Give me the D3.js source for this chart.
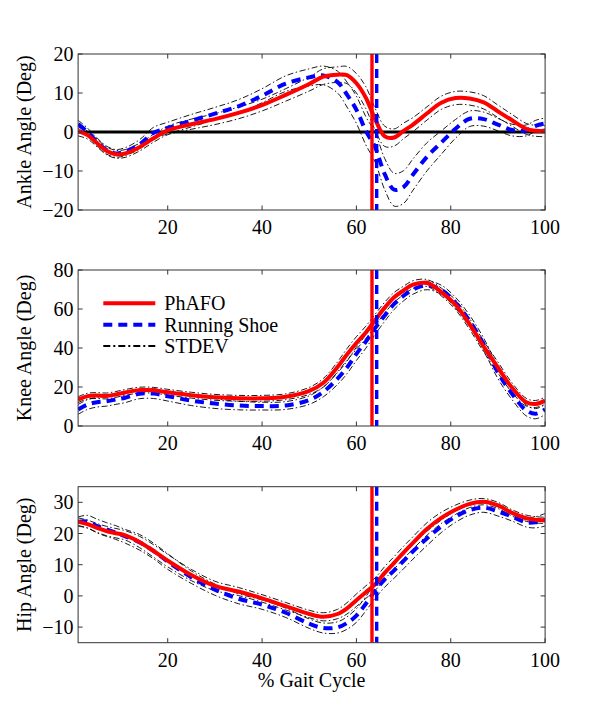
<!DOCTYPE html>
<html><head><meta charset="utf-8">
<script src="https://cdn.jsdelivr.net/npm/d3@7"></script>
<style>body{margin:0;background:#fff;} svg{display:block;}</style>
</head><body>
<svg id="chart" width="600" height="722"></svg>
<script>
// ---- data ----
const gait = [1,3,5,7,9,11,14,17,20,25,30,35,40,45,50,53,56,58,60,62,64,66,68,70,72,75,78,81,84,87,90,93,96,98,100];
const ankleP = [0.2,-0.8,-2.8,-4.8,-5.7,-5.5,-3.9,-1.6,0.4,2.0,3.3,4.9,6.9,9.5,12.3,14.2,14.7,14.6,12.5,8.8,3.2,-1.1,-1.4,0.3,1.9,4.8,7.5,8.7,8.6,7.6,5.3,3.0,0.8,0.3,0.2];
const ankleR = [2.0,0.0,-2.5,-4.6,-5.5,-5.0,-3.2,-0.2,1.0,2.9,4.7,6.6,9.3,12.4,14.0,14.5,12.8,9.6,5.7,0.3,-4.0,-10.8,-14.8,-14.1,-10.9,-6.3,-2.7,0.8,3.4,3.3,1.9,0.5,0.4,1.6,2.2];
const ankleSdP = [1.2,1.0,1.0,1.0,1.0,1.0,1.0,1.0,1.1,1.3,1.4,1.5,1.5,1.6,1.8,2.0,2.0,2.2,2.5,2.8,2.8,2.6,2.2,2.0,1.8,1.7,1.7,1.7,1.7,1.7,1.6,1.5,1.4,1.4,1.4];
const ankleSdR = [1.0,1.0,1.0,1.0,1.0,1.0,1.2,1.4,1.5,1.6,1.6,1.7,1.8,2.0,2.2,2.4,2.8,3.2,3.5,3.6,3.8,4.0,4.2,4.2,4.0,3.6,3.0,2.4,2.0,1.8,1.6,1.5,1.4,1.4,1.4];
const kneeP = [13.5,15.3,15.6,15.4,16.2,17.2,18.4,18.3,17.3,15.8,14.7,14.2,14.2,15.0,18.0,22.2,30.3,36.7,42.6,48.0,54.4,60.7,66.0,69.5,72.5,73.3,68.7,62.2,52.3,40.7,30.0,19.6,12.2,11.3,13.0];
const kneeR = [8.5,11.0,12.2,12.7,13.6,14.5,16.5,16.6,15.3,13.0,11.5,10.5,10.2,10.5,13.3,17.5,24.3,30.0,37.0,43.3,50.3,56.7,62.6,66.8,70.0,72.1,69.8,63.2,53.8,41.8,27.5,16.5,8.0,6.3,8.5];
const kneeSdP = [1.5,1.5,1.5,1.5,1.5,1.5,1.5,1.5,1.5,1.5,1.5,1.5,1.5,1.5,1.8,2.2,2.6,3.0,3.2,3.2,3.0,2.8,2.5,2.2,2.0,1.8,2.0,2.5,2.8,2.8,2.8,2.5,2.0,1.8,1.8];
const kneeSdR = [2.5,2.5,2.5,2.5,2.5,2.5,2.5,2.5,2.5,2.5,2.5,2.2,2.0,2.0,2.2,2.5,3.0,3.2,3.4,3.4,3.2,3.0,2.8,2.6,2.4,2.2,2.4,2.8,3.0,3.2,3.2,3.0,2.8,2.6,2.6];
const hipP = [23.8,23.0,21.8,20.8,20.1,19.4,17.3,14.4,11.3,6.7,3.2,1.4,-0.8,-3.3,-5.8,-6.7,-5.8,-4.0,-1.4,1.2,3.8,7.4,10.6,13.9,17.0,21.5,25.0,27.6,29.5,30.2,29.0,26.6,24.9,24.4,24.2];
const hipR = [23.8,23.8,22.4,21.3,20.3,19.1,17.2,14.4,11.0,6.0,2.0,-0.9,-2.8,-5.4,-8.9,-10.3,-10.1,-8.7,-6.3,-2.5,1.7,5.3,8.2,11.2,14.3,18.5,22.3,25.4,27.5,28.3,27.1,25.4,23.6,23.6,24.4];
const hipSdP = [1.2,1.3,1.4,1.5,1.5,1.5,1.8,2.0,2.0,1.8,1.5,1.3,1.2,1.2,1.2,1.3,1.5,1.8,2.0,2.0,2.0,2.0,2.0,2.0,2.0,2.0,1.8,1.5,1.2,1.0,1.0,1.0,1.0,1.0,1.0];
const hipSdR = [1.5,2.0,2.2,2.2,2.2,2.2,2.5,2.5,2.5,2.0,1.8,1.6,1.5,1.5,1.5,1.6,1.8,2.0,2.2,2.3,2.4,2.5,2.5,2.5,2.5,2.3,2.0,1.8,1.6,1.5,1.5,1.4,1.5,1.8,2.0];
const xTicks = [20,40,60,80,100];
const ankleTicks = [-20,-10,0,10,20];
const kneeTicks = [0,20,40,60,80];
const hipTicks = [-10,0,10,20,30];
const toeOffP = 63.3, toeOffR = 64.3;
const seriesNames = ["PhAFO","Running Shoe","STDEV"];

// ---- layout ----
const svg = d3.select("#chart");
const L = 78.1, R = 545.1, H = 156;
const font = "'Liberation Serif','Times New Roman',serif";
const x = d3.scaleLinear().domain([1,100]).range([L,R]);
const panels = [
  {top:54, dom:[-20,20], ticks:ankleTicks, p:ankleP, r:ankleR, sp:ankleSdP, sr:ankleSdR, label:"Ankle Angle (Deg)", zero:true},
  {top:270, dom:[0,80], ticks:kneeTicks, p:kneeP, r:kneeR, sp:kneeSdP, sr:kneeSdR, label:"Knee Angle (Deg)", legend:true},
  {top:486.7, dom:[-15,35], ticks:hipTicks, p:hipP, r:hipR, sp:hipSdP, sr:hipSdR, label:"Hip Angle (Deg)", xlabel:true}
];
const fmt = d3.format("d");

panels.forEach((pn,i)=>{
  const y = d3.scaleLinear().domain(pn.dom).range([pn.top+H, pn.top]);
  const g = svg.append("g");
  const cid = "clip"+i;
  svg.append("defs").append("clipPath").attr("id",cid).append("rect")
    .attr("x",L).attr("y",pn.top).attr("width",R-L).attr("height",H);
  const line = arr => d3.line().curve(d3.curveCatmullRom.alpha(0.5))
      .x((d,j)=>x(gait[j])).y(d=>y(d))(arr);
  const plot = g.append("g").attr("clip-path",`url(#${cid})`);
  // std lines
  const sdStyle = sel => sel.attr("fill","none").attr("stroke","#000").attr("stroke-width",0.9)
      .attr("stroke-dasharray","6,2.5,1.5,2.5");
  [[pn.p,pn.sp],[pn.r,pn.sr]].forEach(([m,s])=>{
    [1,-1].forEach(sg=>{
      plot.append("path").attr("d",line(m.map((v,j)=>v+sg*s[j]))).call(sdStyle);
    });
  });
  if(pn.zero){
    plot.append("line").attr("x1",L).attr("x2",R).attr("y1",y(0)).attr("y2",y(0))
      .attr("stroke","#000").attr("stroke-width",3);
  }
  plot.append("path").attr("d",line(pn.r)).attr("fill","none").attr("stroke","#0000ff")
    .attr("stroke-width",4).attr("stroke-dasharray","9,6");
  plot.append("path").attr("d",line(pn.p)).attr("fill","none").attr("stroke","#ff0000")
    .attr("stroke-width",4);
  // event lines
  plot.append("line").attr("x1",x(toeOffP)).attr("x2",x(toeOffP)).attr("y1",pn.top).attr("y2",pn.top+H)
    .attr("stroke","#ff0000").attr("stroke-width",3.4);
  plot.append("line").attr("x1",x(toeOffR)).attr("x2",x(toeOffR)).attr("y1",pn.top).attr("y2",pn.top+H)
    .attr("stroke","#0000ff").attr("stroke-width",3.4).attr("stroke-dasharray","9,6");
  // box
  g.append("rect").attr("x",L).attr("y",pn.top).attr("width",R-L).attr("height",H)
    .attr("fill","none").attr("stroke","#333").attr("stroke-width",1);
  // axes with inward ticks
  const ax = g.append("g").attr("font-family",font).attr("font-size",20).attr("fill","#000");
  xTicks.forEach(t=>{
    ax.append("line").attr("x1",x(t)).attr("x2",x(t)).attr("y1",pn.top+H).attr("y2",pn.top+H-4.5).attr("stroke","#333");
    ax.append("line").attr("x1",x(t)).attr("x2",x(t)).attr("y1",pn.top).attr("y2",pn.top+4.5).attr("stroke","#333");
    ax.append("text").attr("x",x(t)).attr("y",pn.top+H+24).attr("text-anchor","middle").text(fmt(t));
  });
  pn.ticks.forEach(t=>{
    ax.append("line").attr("x1",L).attr("x2",L+4.5).attr("y1",y(t)).attr("y2",y(t)).attr("stroke","#333");
    ax.append("line").attr("x1",R).attr("x2",R-4.5).attr("y1",y(t)).attr("y2",y(t)).attr("stroke","#333");
    ax.append("text").attr("x",73.5).attr("y",y(t)).attr("dy","0.35em").attr("text-anchor","end").text(fmt(t));
  });
  ax.append("text").attr("transform",`translate(31,${pn.top+H/2}) rotate(-90)`)
    .attr("text-anchor","middle").text(pn.label);
  if(pn.xlabel){
    ax.append("text").attr("x",(L+R)/2).attr("y",pn.top+H+44.5).attr("text-anchor","middle").text("% Gait Cycle");
  }
  if(pn.legend){
    const lg = g.append("g").attr("font-family",font).attr("font-size",20);
    const rows = [pn.top+33.3, pn.top+54.7, pn.top+76];
    const styles = [
      {c:"#ff0000", w:4, d:null},
      {c:"#0000ff", w:4, d:"9,6"},
      {c:"#000", w:2.2, d:"7,3,2,3"}
    ];
    seriesNames.forEach((n,k)=>{
      const s = styles[k];
      const ln = lg.append("line").attr("x1",103.3).attr("x2",155.3).attr("y1",rows[k]).attr("y2",rows[k])
        .attr("stroke",s.c).attr("stroke-width",s.w);
      if(s.d) ln.attr("stroke-dasharray",s.d);
      lg.append("text").attr("x",164.3).attr("y",rows[k]).attr("dy","0.35em").text(n);
    });
  }
});
</script>
</body></html>
